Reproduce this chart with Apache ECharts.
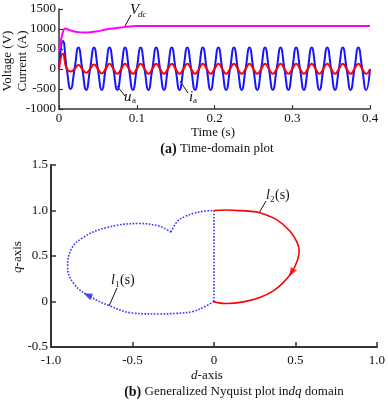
<!DOCTYPE html>
<html><head><meta charset="utf-8">
<script src="https://cdn.jsdelivr.net/npm/echarts@6/dist/echarts.min.js"></script>
<style>html,body{margin:0;padding:0;background:#fff}#c{width:388px;height:400px}</style>
</head><body><div id="c"></div>
<script>
// ---- (a) time-domain data ----
const timeS = [
 0,0.005,0.01,0.015,0.02,0.025,0.03,0.035,0.04,0.045,0.05,0.055,0.06,0.065,0.07,0.075,
 0.08,0.085,0.09,0.095,0.1,0.105,0.11,0.115,0.12,0.125,0.13,0.135,0.14,0.145,0.15,0.155,
 0.16,0.165,0.17,0.175,0.18,0.185,0.19,0.195,0.2,0.205,0.21,0.215,0.22,0.225,0.23,0.235,
 0.24,0.245,0.25,0.255,0.26,0.265,0.27,0.275,0.28,0.285,0.29,0.295,0.3,0.305,0.31,0.315,
 0.32,0.325,0.33,0.335,0.34,0.345,0.35,0.355,0.36,0.365,0.37,0.375,0.38,0.385,0.39,0.395,0.4];
const uaVolt = [
 0,700,0,-500, 0,540,0,-525, 0,535,0,-525, 0,535,0,-525, 0,535,0,-525,
 0,535,0,-525, 0,535,0,-525, 0,535,0,-525, 0,535,0,-525, 0,535,0,-525,
 0,535,0,-525, 0,535,0,-525, 0,535,0,-525, 0,535,0,-525, 0,535,0,-525,
 0,535,0,-525, 0,535,0,-525, 0,535,0,-525, 0,535,0,-525, 0,535,0,-525, 0];
const iaAmp = [
 0,380,0,-60, 0,100,0,-95, 0,115,0,-110, 0,130,0,-120, 0,130,0,-120,
 0,130,0,-120, 0,130,0,-120, 0,130,0,-120, 0,130,0,-120, 0,130,0,-120,
 0,130,0,-120, 0,130,0,-120, 0,130,0,-120, 0,130,0,-120, 0,130,0,-120,
 0,130,0,-120, 0,130,0,-120, 0,130,0,-120, 0,130,0,-120, 0,130,0,-120, 0];
const vdcTime = [0,0.004,0.008,0.012,0.018,0.025,0.032,0.04,0.05,0.06,0.07,0.08,0.09,0.1,0.12,0.4];
const vdcVolt = [450,850,1015,985,945,922,915,920,945,985,1015,1040,1062,1072,1075,1075];
const topXTicks = [0,0.1,0.2,0.3,0.4];
const topXLabels = ['0','0.1','0.2','0.3','0.4'];
const topYTicks = [-1000,-500,0,500,1000,1500];
const topYLabels = ['-1000','-500','0','500','1000','1500'];

// ---- (b) generalized Nyquist data ----
const l2D = [0,0.07,0.139,0.212,0.282,0.384,0.466,0.511,0.523,0.511,0.476,0.425,0.364,0.282,0.180,0.077,0.016,0];
const l2Q = [1.0,1.005,1.0,0.993,0.975,0.90,0.775,0.647,0.555,0.445,0.318,0.208,0.116,0.044,-0.004,-0.022,-0.011,0];
const l1LowD = [0,-0.06,-0.131,-0.23,-0.336,-0.50,-0.642,-0.775,-0.857,-0.898,-0.877,-0.806,-0.663,-0.458,-0.336,-0.264];
const l1LowQ = [0,-0.06,-0.11,-0.13,-0.137,-0.126,-0.046,0.07,0.19,0.37,0.57,0.70,0.81,0.857,0.828,0.763];
const l1UpD = [-0.264,-0.223,-0.172,-0.127,-0.066,0];
const l1UpQ = [0.763,0.883,0.938,0.967,0.992,1.0];
const l1VertD = [0,0];
const l1VertQ = [1.0,0];
const arrowRedD = [0.476], arrowRedQ = [0.318];
const arrowBlueD = [-0.775], arrowBlueQ = [0.07];
const botXTicks = [-1,-0.5,0,0.5,1];
const botXLabels = ['-1.0','-0.5','0','0.5','1.0'];
const botYTicks = [-0.5,0,0.5,1,1.5];
const botYLabels = ['-0.5','0','0.5','1.0','1.5'];

const F = '"Liberation Serif", "Times New Roman", serif';
const zip = (a,b) => a.map((v,i)=>[v,b[i]]);
const lab = (ticks, labels) => v => { const i = ticks.findIndex(t=>Math.abs(t-v)<1e-9); return i<0?'':labels[i]; };
const axisCommon = {
  axisLine:{show:true,onZero:false,lineStyle:{color:'#333',width:1.5}},
  axisTick:{show:true,inside:true,length:4,lineStyle:{color:'#333',width:1.2}},
  splitLine:{show:false},
  axisLabel:{color:'#111',fontFamily:F,fontSize:13}
};
const chart = echarts.init(document.getElementById('c'), null, {renderer:'canvas'});
const txt = (x,y,text,font,extra) => Object.assign({type:'text',x:x,y:y,style:Object.assign({text:text,font:font,fill:'#111',align:'left',verticalAlign:'middle'},extra||{})});
const line = (x1,y1,x2,y2) => ({type:'line',shape:{x1,y1,x2,y2},style:{stroke:'#111',lineWidth:1}});
chart.setOption({
  animation:false,
  backgroundColor:'#fff',
  grid:[{left:59,top:9,width:311,height:100},{left:51,top:165,width:326,height:182}],
  xAxis:[
    Object.assign({},axisCommon,{gridIndex:0,type:'value',min:0,max:0.4,interval:0.1,
      axisLabel:Object.assign({},axisCommon.axisLabel,{margin:3,formatter:lab(topXTicks,topXLabels)})}),
    Object.assign({},axisCommon,{gridIndex:1,type:'value',min:-1,max:1,interval:0.5,
      axisLine:{show:true,onZero:false,lineStyle:{color:'#333',width:2}},
      axisTick:{show:true,inside:true,length:5,lineStyle:{color:'#333',width:1.5}},
      axisLabel:Object.assign({},axisCommon.axisLabel,{margin:7,formatter:lab(botXTicks,botXLabels)})})
  ],
  yAxis:[
    Object.assign({},axisCommon,{gridIndex:0,type:'value',min:-1000,max:1500,interval:500,
      axisLabel:Object.assign({},axisCommon.axisLabel,{margin:3,formatter:lab(topYTicks,topYLabels)})}),
    Object.assign({},axisCommon,{gridIndex:1,type:'value',min:-0.5,max:1.5,interval:0.5,
      axisLine:{show:true,onZero:false,lineStyle:{color:'#333',width:2}},
      axisTick:{show:true,inside:true,length:5,lineStyle:{color:'#333',width:1.5}},
      axisLabel:Object.assign({},axisCommon.axisLabel,{margin:3,formatter:lab(botYTicks,botYLabels)})})
  ],
  series:[
    {type:'line',xAxisIndex:0,yAxisIndex:0,data:zip(timeS,uaVolt),smooth:0.55,showSymbol:false,lineStyle:{color:'#1515ff',width:2}},
    {type:'line',xAxisIndex:0,yAxisIndex:0,data:zip(timeS,iaAmp),smooth:0.55,showSymbol:false,lineStyle:{color:'#ff0000',width:2}},
    {type:'line',xAxisIndex:0,yAxisIndex:0,data:zip(vdcTime,vdcVolt),smooth:0.4,showSymbol:false,lineStyle:{color:'#ff00ff',width:2}},
    {type:'line',xAxisIndex:1,yAxisIndex:1,data:zip(l1LowD,l1LowQ),smooth:0.4,showSymbol:false,lineStyle:{color:'#3333ff',width:1.6,type:'dotted'}},
    {type:'line',xAxisIndex:1,yAxisIndex:1,data:zip(l1UpD,l1UpQ),smooth:0.4,showSymbol:false,lineStyle:{color:'#3333ff',width:1.6,type:'dotted'}},
    {type:'line',xAxisIndex:1,yAxisIndex:1,data:zip(l1VertD,l1VertQ),showSymbol:false,lineStyle:{color:'#3333ff',width:1.6,type:'dotted'}},
    {type:'line',xAxisIndex:1,yAxisIndex:1,data:zip(l2D,l2Q),smooth:0.4,showSymbol:false,lineStyle:{color:'#ff0000',width:1.6}},
    {type:'scatter',xAxisIndex:1,yAxisIndex:1,data:zip(arrowRedD,arrowRedQ),symbol:'triangle',symbolSize:[7,9],symbolRotate:149,itemStyle:{color:'#ff0000'}},
    {type:'scatter',xAxisIndex:1,yAxisIndex:1,data:zip(arrowBlueD,arrowBlueQ),symbol:'triangle',symbolSize:[7,9],symbolRotate:66,itemStyle:{color:'#2222ee'}}
  ],
  graphic:[
    // (a) axis names and caption
    {type:'text',x:8,y:61,rotation:Math.PI/2,style:{text:'Voltage (V)',font:'13px '+F,fill:'#111',align:'center',verticalAlign:'middle'}},
    {type:'text',x:23,y:61,rotation:Math.PI/2,style:{text:'Current (A)',font:'13px '+F,fill:'#111',align:'center',verticalAlign:'middle'}},
    txt(213,133,'Time (s)','13px '+F,{align:'center'}),
    {type:'text',x:217,y:149,style:{text:'{b|(a)} Time-domain plot',font:'13px '+F,fill:'#111',align:'center',verticalAlign:'middle',
      rich:{b:{fontWeight:'bold',fontSize:14,fontFamily:F,fill:'#111'}}}},
    // (a) annotations
    txt(130,10,'V','italic 15px '+F),
    txt(138,15,'dc','italic 9px '+F),
    line(125,26,131,15),
    txt(124,97,'u','italic 15px '+F),
    txt(132,101,'a','9px '+F),
    line(117,86,125,96),
    txt(189,97,'i','italic 15px '+F),
    txt(193,101,'a','9px '+F),
    line(180,81,188,93),
    // (b) axis names and caption
    {type:'text',x:18,y:257,rotation:Math.PI/2,style:{text:'{i|q}-axis',font:'13px '+F,fill:'#111',align:'center',verticalAlign:'middle',
      rich:{i:{fontStyle:'italic',fontSize:13,fontFamily:F,fill:'#111'}}}},
    {type:'text',x:207,y:376,style:{text:'{i|d}-axis',font:'13px '+F,fill:'#111',align:'center',verticalAlign:'middle',
      rich:{i:{fontStyle:'italic',fontSize:13,fontFamily:F,fill:'#111'}}}},
    {type:'text',x:234,y:392,style:{text:'{b|(b)} Generalized Nyquist plot in{i|dq} domain',font:'13px '+F,fill:'#111',align:'center',verticalAlign:'middle',
      rich:{b:{fontWeight:'bold',fontSize:14,fontFamily:F,fill:'#111'},i:{fontStyle:'italic',fontSize:13,fontFamily:F,fill:'#111'}}}},
    // (b) annotations
    txt(266,195,'l','italic 14px '+F),
    txt(270,200,'2','9px '+F),
    txt(275,195,'(s)','14px '+F),
    line(266,201,259,213),
    txt(111,280,'l','italic 14px '+F),
    txt(115,285,'1','9px '+F),
    txt(120,280,'(s)','14px '+F),
    line(117,288,109,306)
  ]
});
</script></body></html>
